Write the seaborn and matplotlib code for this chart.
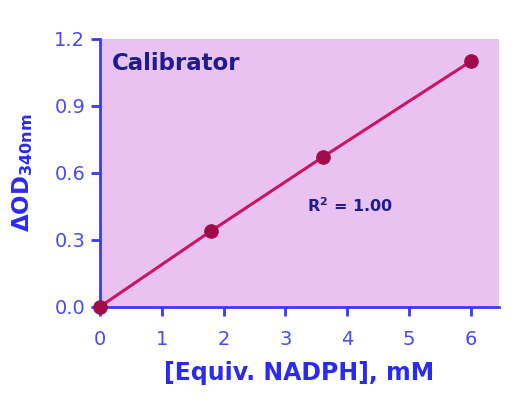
import numpy as np
import pandas as pd
import matplotlib
matplotlib.use("Agg")
import matplotlib.pyplot as plt
import seaborn as sns

# values
nadph_mm = [0.0, 1.8, 3.6, 6.0]
delta_od = [0.0, 0.34, 0.67, 1.10]
x_ticks = [0, 1, 2, 3, 4, 5, 6]
y_ticks = [0.0, 0.3, 0.6, 0.9, 1.2]

df = pd.DataFrame({"conc": nadph_mm, "od": delta_od})

sns.set_style("ticks")
plt.rcParams["font.family"] = ["DejaVu Sans"]

axis_blue = "#3a3af0"
label_blue = "#2a2af5"
navy = "#1c1c8c"
line_red = "#cc1464"
dot_red = "#9e0d4a"

fig = plt.figure(figsize=(5.17, 4.13), dpi=100)
ax = fig.add_axes([0.193, 0.257, 0.772, 0.649])
ax.set_facecolor("#e9c2f2")

sns.lineplot(data=df, x="conc", y="od", ax=ax, color=line_red,
             linewidth=2.2, zorder=2)
sns.scatterplot(data=df, x="conc", y="od", ax=ax, color=dot_red,
                s=95, edgecolor=dot_red, zorder=3, clip_on=False)

ax.set_xlim(0, 6.45)
ax.set_ylim(0, 1.2)
ax.set_xticks(x_ticks)
ax.set_yticks(y_ticks)
ax.set_yticklabels([f"{v:.1f}" for v in y_ticks])

for side in ["top", "right"]:
    ax.spines[side].set_visible(False)
for side in ["left", "bottom"]:
    ax.spines[side].set_color(axis_blue)
    ax.spines[side].set_linewidth(2)

ax.tick_params(axis="both", colors=axis_blue, labelcolor="#4a4af8",
               labelsize=14, length=6.5, width=2, direction="out")
ax.tick_params(axis="x", pad=10)
ax.tick_params(axis="y", pad=4)

ax.set_xlabel("[Equiv. NADPH], mM", color=label_blue, fontsize=17,
              fontweight="bold", labelpad=9)
ax.set_ylabel("ΔOD$_{\\mathregular{340nm}}$", color=label_blue,
              fontsize=16.5, fontweight="bold", labelpad=14)

ax.text(0.03, 0.95, "Calibrator", transform=ax.transAxes, color=navy,
        fontsize=16.5, fontweight="bold", va="top", ha="left")
ax.text(0.518, 0.377, "R$^{\\mathregular{2}}$ = 1.00", transform=ax.transAxes,
        color=navy, fontsize=11.5, fontweight="bold", va="center", ha="left")

fig.savefig("out.png", dpi=100)
